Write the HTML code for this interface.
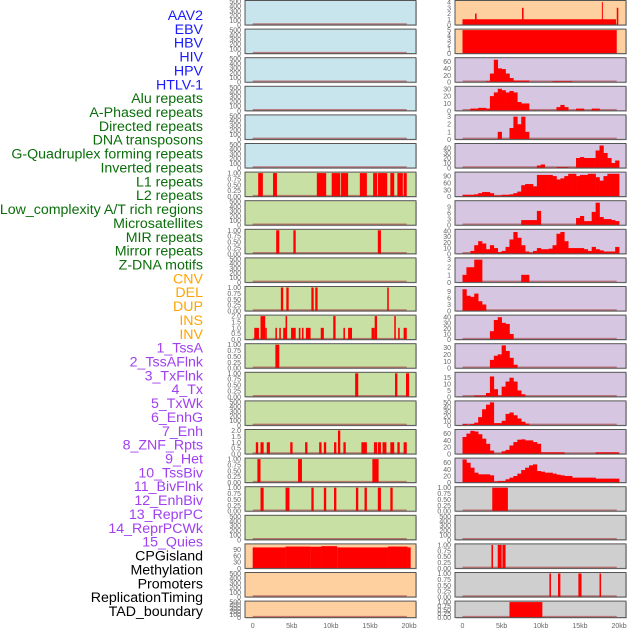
<!DOCTYPE html>
<html><head><meta charset="utf-8"><style>
html,body{margin:0;padding:0;background:#fff;width:630px;height:630px;overflow:hidden}
svg{display:block}
</style></head><body>
<svg id="chart" width="630" height="630" xmlns="http://www.w3.org/2000/svg" font-family="Liberation Sans, sans-serif"></svg>
<script>
// ---- data ----
const rowLabels = ["AAV2","EBV","HBV","HIV","HPV","HTLV-1","Alu repeats","A-Phased repeats","Directed repeats","DNA transposons","G-Quadruplex forming repeats","Inverted repeats","L1 repeats","L2 repeats","Low_complexity A/T rich regions","Microsatellites","MIR repeats","Mirror repeats","Z-DNA motifs","CNV","DEL","DUP","INS","INV","1_TssA","2_TssAFlnk","3_TxFlnk","4_Tx","5_TxWk","6_EnhG","7_Enh","8_ZNF_Rpts","9_Het","10_TssBiv","11_BivFlnk","12_EnhBiv","13_ReprPC","14_ReprPCWk","15_Quies","CPGisland","Methylation","Promoters","ReplicationTiming","TAD_boundary"];
const labelColors = ["#1a1aff","#1a1aff","#1a1aff","#1a1aff","#1a1aff","#1a1aff","#0a6e0a","#0a6e0a","#0a6e0a","#0a6e0a","#0a6e0a","#0a6e0a","#0a6e0a","#0a6e0a","#0a6e0a","#0a6e0a","#0a6e0a","#0a6e0a","#0a6e0a","#ffa500","#ffa500","#ffa500","#ffa500","#ffa500","#a040f0","#a040f0","#a040f0","#a040f0","#a040f0","#a040f0","#a040f0","#a040f0","#a040f0","#a040f0","#a040f0","#a040f0","#a040f0","#a040f0","#a040f0","#000","#000","#000","#000","#000"];
const xTickKb = [0,5,10,15,20];
const xTickLabels = ["0","5kb","10kb","15kb","20kb"];

const emptyTicks = [0,100,200,300,400,500];
const binTicks = [0,0.25,0.5,0.75,1];
const twoTicks = [0,0.5,1,1.5,2];

const L7 = [[0.7,1.3,1],[2.6,3.1,1],[8.2,9.4,1],[10.1,11.2,1],[11.3,12.2,1],[13.7,14.6,1],[15.4,15.9,1],[16.0,17.2,1],[17.6,18.1,1],[18.5,19.2,1],[19.3,19.7,1]];
const L9 = [[3.0,3.4,1],[5.2,5.5,1],[16.0,16.4,1]];
const L11 = [[3.6,3.9,1],[4.3,4.6,1],[7.5,7.8,1],[8.0,8.3,1],[17.2,17.4,1]];
const L12 = [[0.2,0.8,1],[1.0,1.6,2],[1.6,1.8,1],[2.9,3.1,1],[3.4,3.6,1],[3.9,4.2,1],[4.2,4.4,2],[4.9,5.5,1],[5.9,6.1,1],[6.3,6.5,1],[6.8,7.4,1],[8.7,9.1,1],[10.3,10.6,2],[11.6,11.8,1],[12.2,12.7,1],[15.2,15.6,1],[15.6,15.9,2],[18.1,18.3,2],[18.6,18.8,1],[19.3,19.7,1]];
const L13 = [[2.9,3.4,1]];
const L14 = [[13.1,13.5,1],[18.2,18.5,1],[19.6,20.0,1]];
const L16 = [[0.4,0.7,1],[1.0,1.4,1],[1.8,2.2,1],[4.8,5.1,1],[6.7,7.0,1],[8.5,8.8,1],[9.1,9.4,1],[10.4,10.7,1],[10.9,11.2,2],[11.6,11.9,1],[13.9,14.6,1],[15.5,15.9,1],[16.0,16.4,1],[16.6,17.1,1],[17.6,18.1,1],[18.5,18.8,1],[19.3,19.7,1]];
const L17 = [[0.6,1.0,1],[5.8,6.3,1],[15.3,16.1,1]];
const L18 = [[1.0,1.4,1],[4.2,4.7,1],[7.5,7.8,1],[9.1,9.4,1],[10.4,10.7,1],[13.2,13.5,1],[14.3,14.6,1],[16.0,16.4,1],[17.6,17.9,1]];
const L20 = [[0,4.2,100],[4.2,7.4,104],[7.4,8.8,103],[8.8,10.8,106],[10.8,17.3,100],[17.3,19.8,104],[19.8,20.2,100]];

const R1 = [[0,19.6,1],[1.6,1.8,2],[7.6,7.8,3],[17.8,17.9,4],[19.7,19.9,3]];
const R2 = [[0,19.7,5]];
const R3 = [0,0,0,0,0,0,3,25,65,40,38,25,12,5,5,5,5,0,0,0,0,0,0,3,3,3,3,3,0,0,0,0,0,0,0,0,0,0,0,0];
const R4 = [0,0,3,3,4,4,3,20,25,30,28,25,27,25,12,10,10,0,0,0,0,0,0,0,5,8,5,0,0,3,3,0,0,3,3,0,0,0,0,0];
const R5 = [0,0,0,0,0,0,0,0,0,1,0,0,1.5,3,2,3,1,0,0,0,0,0,0,0,0,0,0,0,0,0,0,0,0,0,0,0,0,0,0,0];
const R6 = [0,0,0,0,0,0,0,0,0,0,0,0,0,0,0,0,0,0,0,5,7,0,0,0,2,2,2,0,0,20,22,20,20,20,35,45,30,20,10,15];
const R7 = [8,8,8,10,15,20,20,15,5,5,8,8,10,15,22,50,55,55,45,95,95,95,95,90,75,80,90,100,100,90,95,95,100,100,85,70,90,100,100,100];
const R8 = [0,0,0,0,0,0,0,0,0,0,0,0,0,0,0,2.5,2.5,2.5,2.5,7,0,0,0,0,0,0,0,0,0,3.5,4.5,2,2,6.5,11,4,3,3,2.5,2];
const R9 = [0,0,5,15,22,18,8,15,10,3,5,12,25,38,28,15,4,2,5,10,8,8,9,15,35,38,22,10,10,10,10,8,5,12,8,6,4,4,4,12];
const R10 = [1,2,2,3,3,0,0,0,0,0,0,0,0,0,0,1,1,0,0,0,0,0,0,0,0,0,0,0,0,0,0,0,0,0,0,0,0,0,0,0];
const R11 = [10,7,6.5,8,4.5,3,0,0,0,0,0,0,0,0,0,0,0,0,0,0,0,0,0,0,0,0,0,0,0,0,0,0,0,0,0,0,0,0,0,0];
const R12 = [0,0,0,0,0,0,0,15,35,40,30,28,10,0,0,0,0,0,0,0,0,0,0,0,0,0,0,0,0,0,0,0,0,0,0,0,0,0,0,0];
const R13 = [0,0,0,0,0,0,0,12,18,20,33,25,15,5,0,0,0,0,0,0,0,0,0,0,0,0,0,0,0,0,0,0,0,0,0,0,0,0,0,0];
const R14 = [0,0,0,1,1,1,3,16,6,1,8,12,15,12,5,2,0,0,0,0,0,0,0,0,0,0,0,0,0,0,0,0,0,0,0,0,0,0,0,0];
const R15 = [3,2,3,6,18,35,45,50,5,5,10,25,28,22,15,8,4,0,0,0,0,0,0,0,0,0,0,0,0,0,0,0,0,0,0,0,0,0,0,0];
const R16 = [50,60,68,66,58,45,30,10,2,2,8,12,25,35,42,43,40,40,35,30,5,5,5,5,5,5,0,0,0,0,0,0,0,0,5,5,5,5,5,5];
const R17 = [70,60,45,30,25,25,25,22,3,5,5,10,15,20,27,38,45,52,55,35,33,30,30,27,24,22,20,20,15,15,15,15,15,15,12,12,12,12,12,12];
const R18 = [[3.8,5.8,1]];
const R20 = [[3.7,3.9,1],[4.5,5.0,1],[5.1,5.5,1]];
const R21 = [[11.1,11.3,1],[12.2,12.5,1],[14.8,15.2,1],[17.5,17.7,1]];
const R22 = [[6.0,10.2,1]];

const BLUE="#c8e4ec", GREEN="#c8e0a4", PEACH="#fecf9f", PURPLE="#d6c6e2", GRAY="#cfcfcf";
const leftPanels = [
 [BLUE,emptyTicks,500,"none",null],[BLUE,emptyTicks,500,"none",null],[BLUE,emptyTicks,500,"none",null],
 [BLUE,emptyTicks,500,"none",null],[BLUE,emptyTicks,500,"none",null],[BLUE,emptyTicks,500,"none",null],
 [GREEN,binTicks,1,"iv",L7],[GREEN,emptyTicks,500,"none",null],[GREEN,binTicks,1,"iv",L9],
 [GREEN,emptyTicks,500,"none",null],[GREEN,binTicks,1,"iv",L11],[GREEN,twoTicks,2,"iv",L12],
 [GREEN,binTicks,1,"iv",L13],[GREEN,binTicks,1,"iv",L14],[GREEN,emptyTicks,500,"none",null],
 [GREEN,twoTicks,2,"iv",L16],[GREEN,binTicks,1,"iv",L17],[GREEN,binTicks,1,"iv",L18],
 [GREEN,emptyTicks,500,"none",null],[PEACH,[0,30,60,90],112,"iv",L20],
 [PEACH,emptyTicks,500,"none",null],[PEACH,emptyTicks,500,"none",null]
];
const rightPanels = [
 [PEACH,[0,1,2,3,4],4.1,"iv",R1],[PEACH,[0,1,2,3,4,5],5,"iv",R2],
 [PURPLE,[0,20,40,60],68,"bins",R3],[PURPLE,[0,10,20,30],32,"bins",R4],
 [PURPLE,[0,1,2,3],3.1,"bins",R5],[PURPLE,[0,10,20,30,40],47,"bins",R6],
 [PURPLE,[0,30,60,90],103,"bins",R7],[PURPLE,[0,3,6,9],11.5,"bins",R8],
 [PURPLE,[0,10,20,30,40],41,"bins",R9],[PURPLE,[0,1,2,3],3.1,"bins",R10],
 [PURPLE,[0,3,6,9],10.8,"bins",R11],[PURPLE,[0,10,20,30,40],42,"bins",R12],
 [PURPLE,[0,10,20,30],34,"bins",R13],[PURPLE,[0,5,10,15],18.5,"bins",R14],
 [PURPLE,[0,10,20,30,40,50],51,"bins",R15],[PURPLE,[0,20,40,60],69,"bins",R16],
 [PURPLE,[0,20,40,60],71,"bins",R17],[GRAY,binTicks,1,"iv",R18],
 [GRAY,emptyTicks,500,"none",null],[GRAY,binTicks,1,"iv",R20],
 [GRAY,binTicks,1,"iv",R21],[GRAY,binTicks,1,"iv",R22]
];

const NS="http://www.w3.org/2000/svg";
const svg=document.getElementById("chart");
function mk(tag,attrs,parent){const e=document.createElementNS(NS,tag);for(const k in attrs)e.setAttribute(k,attrs[k]);(parent||svg).appendChild(e);return e;}
function fmt(v,ticks){const step=ticks[1]-ticks[0];if(step<0.5&&step>0)return v.toFixed(2);if(step===0.5)return v.toFixed(1);return String(v);}

rowLabels.forEach((t,k)=>{
  const e=mk("text",{x:203,y:20+k*13.86,"text-anchor":"end","font-size":"14.2",fill:labelColors[k]});
  e.textContent=t;
  
  
});

function panelTop(i){return i*28.6+0.5;}
function panelH(i){return i===21?16.5:24.5;}

function drawColumn(panels,x0,x1,kb0x,kbScale,side){
  const xs=kb=>kb0x+kb*kbScale;
  panels.forEach((p,i)=>{
    const [bg,ticks,yTop,kind,data]=p;
    const top=panelTop(i),h=panelH(i),bottom=top+h;
    const ys=v=>bottom-(v/yTop)*(h-1);
    const g=mk("g",{});
    
    
    mk("rect",{x:x0+1,y:top+1,width:x1-x0,height:h,fill:"#aaa",opacity:0.5},g);
    mk("rect",{x:x0,y:top,width:x1-x0,height:h,fill:bg},g);
    mk("line",{x1:xs(0),x2:xs(19.7),y1:bottom-1,y2:bottom-1,stroke:"#b05050","stroke-width":1.5,opacity:0.7},g);
    if(kind==="iv"){
      data.forEach(d=>{
        const r=mk("rect",{x:xs(d[0]),y:ys(d[2]),width:Math.max(1,xs(d[1])-xs(d[0])),height:bottom-ys(d[2]),fill:"#ff0000"},g);
        
        
      });
    } else if(kind==="bins"){
      data.forEach((v,b)=>{
        if(v<=0)return;
        const r=mk("rect",{x:xs(b*0.5),y:ys(v),width:xs(0.5)-xs(0)+0.3,height:bottom-ys(v),fill:"#ff0000"},g);
        
        
      });
    }
    mk("rect",{x:x0,y:top,width:x1-x0,height:h,fill:"none",stroke:"#555","stroke-width":1},g);
    const tg=mk("g",{},g);
    
    
    ticks.forEach(v=>{
      const t=mk("text",{x:x0-4,y:ys(v)+2.5,"text-anchor":"end","font-size":"7",fill:"#666"},tg);
      t.textContent=fmt(v,ticks);
    });
  });
  const xg=mk("g",{});
  
  
  xTickKb.forEach((kb,j)=>{
    const t=mk("text",{x:xs(kb),y:628,"text-anchor":"middle","font-size":"7",fill:"#666"},xg);
    t.textContent=xTickLabels[j];
  });
}
drawColumn(leftPanels,245,416,252.7,7.82,"left");
drawColumn(rightPanels,455,626,462.5,7.83,"right");
</script>
</body></html>
